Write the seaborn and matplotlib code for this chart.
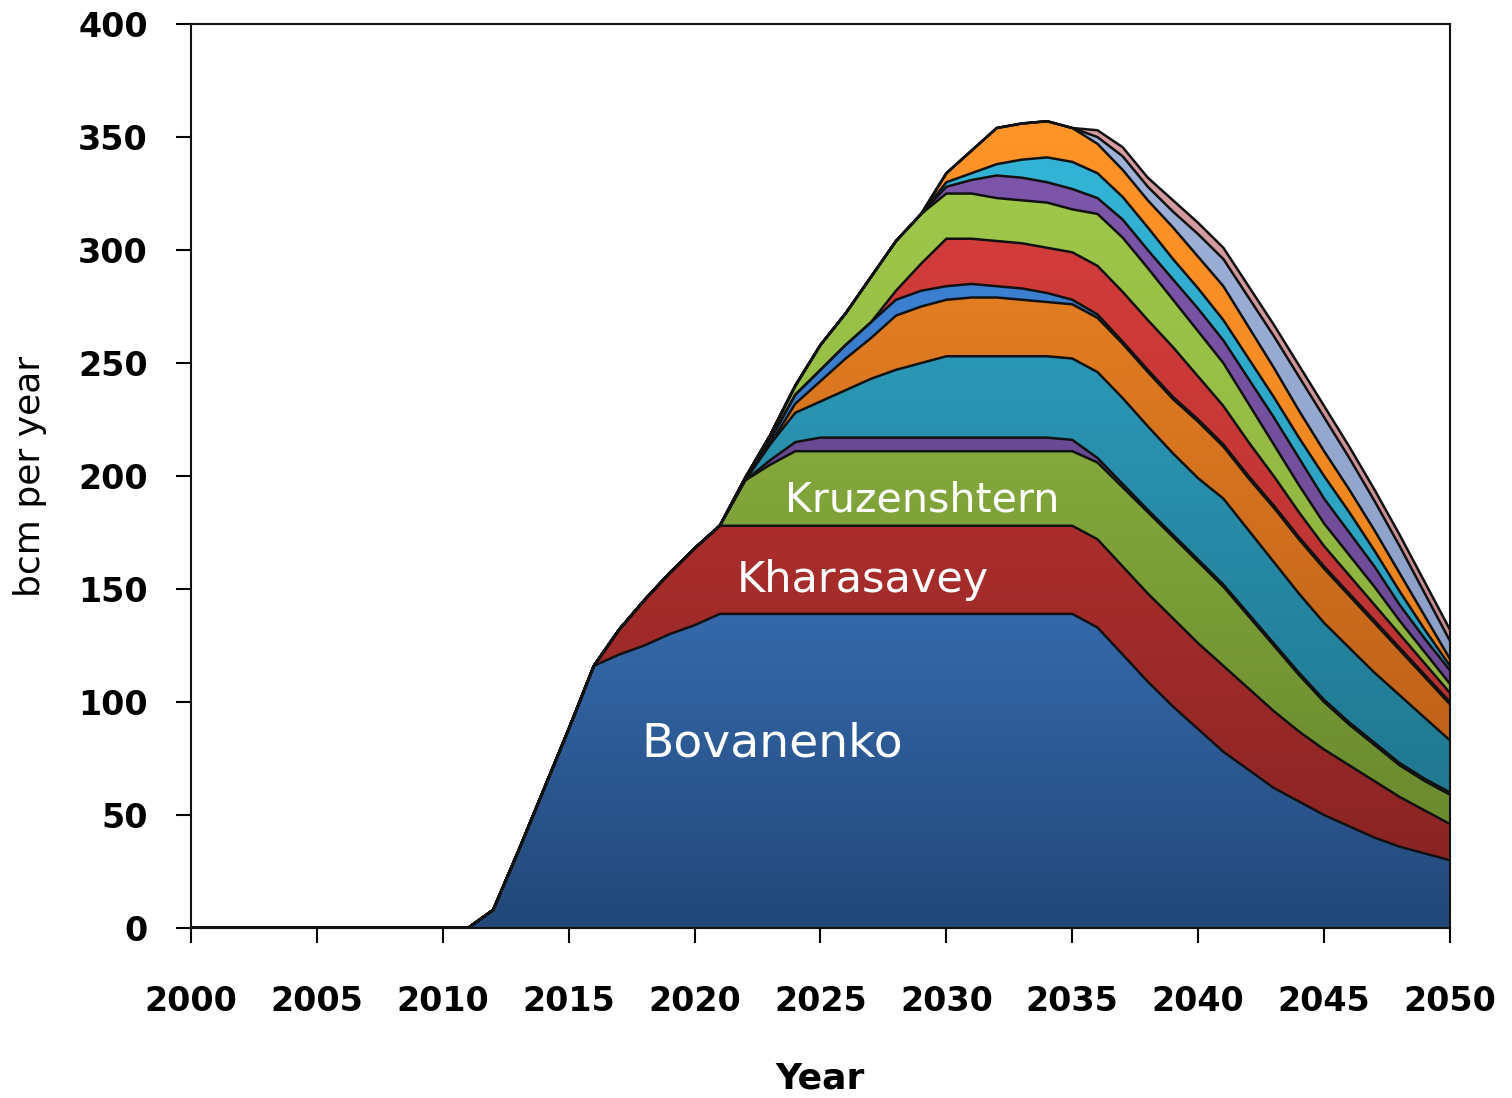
import numpy as np
import pandas as pd
import matplotlib
matplotlib.use("Agg")
import matplotlib.pyplot as plt
import seaborn as sns
from matplotlib.colors import LinearSegmentedColormap

sns.set_style("ticks")
plt.rcParams['font.family'] = ['DejaVu Sans']
plt.rcParams['text.color'] = 'black'
plt.rcParams['axes.labelcolor'] = 'black'
plt.rcParams['xtick.color'] = 'black'
plt.rcParams['ytick.color'] = 'black'

# --- data: yearly production per field, bcm per year (stacked bottom -> top) ---
years = list(range(2000, 2051))
z = [0] * 11  # 2000-2010, nothing produced yet

bovanenko = z + [0, 8, 34, 61, 88, 116, 121, 125, 130, 134, 139,
                 139, 139, 139, 139, 139, 139, 139, 139, 139, 139, 139, 139, 139, 139,
                 133, 121, 109, 98, 88, 78, 70, 62, 56, 50, 45, 40, 36, 33, 30]
kharasavey = z + [0, 0, 0, 0, 0, 0, 11, 20, 27, 34, 39,
                  39, 39, 39, 39, 39, 39, 39, 39, 39, 39, 39, 39, 39, 39,
                  39, 39, 39, 39, 38, 38, 36, 34, 31, 29, 27, 25, 22, 19, 16]
kruzenshtern = z + [0, 0, 0, 0, 0, 0, 0, 0, 0, 0, 0,
                    20, 27, 33, 33, 33, 33, 33, 33, 33, 33, 33, 33, 33, 33,
                    34, 35, 36, 36, 36, 35, 32, 29, 25, 21, 18, 16, 14, 13, 13]
field_4 = z + [0, 0, 0, 0, 0, 0, 0, 0, 0, 0, 0,
               0, 2, 4, 6, 6, 6, 6, 6, 6, 6, 6, 6, 6, 5,
               2, 1.5, 1, 1, 1, 1, 1, 1, 1, 1, 1, 1, 1, 1, 1]
field_5 = z + [0, 0, 0, 0, 0, 0, 0, 0, 0, 0, 0,
               0, 7, 13, 16, 21, 26, 30, 33, 36, 36, 36, 36, 36, 36,
               38, 38, 37, 36, 36, 38, 37, 36, 35, 34, 33, 31, 30, 27, 23]
field_6 = z + [0, 0, 0, 0, 0, 0, 0, 0, 0, 0, 0,
               0, 0, 4, 9, 14, 18, 24, 25, 25, 26, 26, 25, 24, 24,
               24, 24, 24, 24, 25, 23, 23, 24, 24, 24, 23, 22, 20, 18, 16]
field_7 = z + [0, 0, 0, 0, 0, 0, 0, 0, 0, 0, 0,
               0, 2, 4, 5, 6, 7, 7, 7, 6, 6, 5, 5, 4, 2,
               1.5, 1, 1, 1, 1, 1, 1, 1, 1, 1, 1, 1, 1, 1, 1]
field_8 = z + [0, 0, 0, 0, 0, 0, 0, 0, 0, 0, 0,
               0, 0, 0, 0, 0, 0, 4, 12, 21, 20, 20, 20, 20, 21,
               21.5, 22, 22, 22, 19, 17, 15, 13, 11, 9, 8, 7, 6, 5, 4]
field_9 = z + [0, 0, 0, 0, 0, 0, 0, 0, 0, 0, 0,
               1, 2, 4, 11, 14, 20, 22, 22, 20, 20, 19, 19, 20, 19,
               23, 24, 23, 21, 20, 19, 17, 14, 12, 10, 9, 8, 6, 5, 4]
field_10 = z + [0, 0, 0, 0, 0, 0, 0, 0, 0, 0, 0,
                0, 0, 0, 0, 0, 0, 0, 0, 3, 6, 10, 10, 9, 9,
                7, 8, 8, 9, 10, 10, 11, 12, 12, 11, 10, 9, 7, 6, 6]
field_11 = z + [0, 0, 0, 0, 0, 0, 0, 0, 0, 0, 0,
                0, 0, 0, 0, 0, 0, 0, 0, 2, 3, 5, 8, 11, 12,
                11, 10, 10, 9, 9, 9, 9, 9, 9, 10, 9, 7, 6, 4, 2]
field_12 = z + [0, 0, 0, 0, 0, 0, 0, 0, 0, 0, 0,
                0, 0, 0, 0, 0, 0, 0, 0, 4, 10, 16, 16, 16, 15,
                13, 12, 12, 14, 14, 15, 14, 13, 12, 11, 10, 9, 8, 6, 3]
field_13 = z + [0, 0, 0, 0, 0, 0, 0, 0, 0, 0, 0,
                0, 0, 0, 0, 0, 0, 0, 0, 0, 0, 0, 0, 0, 0,
                3, 6, 6, 7, 10, 12, 13, 14, 15, 15, 14, 13, 12, 10, 8]
field_14 = z + [0, 0, 0, 0, 0, 0, 0, 0, 0, 0, 0,
                0, 0, 0, 0, 0, 0, 0, 0, 0, 0, 0, 0, 0, 0,
                3, 4, 4, 5, 5, 5, 5, 5, 5, 5, 5, 5, 5, 5, 5]

fields = [bovanenko, kharasavey, kruzenshtern, field_4, field_5, field_6, field_7,
          field_8, field_9, field_10, field_11, field_12, field_13, field_14]
names = ['Bovanenko', 'Kharasavey', 'Kruzenshtern', 'Field 4', 'Field 5', 'Field 6',
         'Field 7', 'Field 8', 'Field 9', 'Field 10', 'Field 11', 'Field 12',
         'Field 13', 'Field 14']

# top / bottom colour of each field's gradient
light = ['#3569ab', '#ab2e2d', '#84a83c', '#6a4a95', '#2b97b6', '#e27d22', '#3c80d2',
         '#d23c3a', '#9fc74a', '#7d56aa', '#33b4d6', '#ff9428', '#9fb2da', '#d79ea3']
dark = ['#224778', '#8a2424', '#6a8a2e', '#58407e', '#217891', '#c0621a', '#3470b8',
        '#b83232', '#8bb03f', '#6c4a95', '#2c9dbb', '#e8821f', '#8c9fc6', '#c48c91']

tops = np.cumsum(np.array(fields, dtype=float), axis=0)
bottoms = np.vstack([np.zeros(len(years)), tops[:-1]])

# --- plot ---
fig = plt.figure(figsize=(15.12, 10.98), dpi=100)
ax = fig.add_axes([0.1263, 0.1548, 0.8327, 0.8233])

grad = np.linspace(0, 1, 256).reshape(-1, 1)
for i in range(len(fields)):
    coll = ax.fill_between(years, bottoms[i], tops[i], facecolor=light[i],
                           edgecolor='none', zorder=1)
    on = np.array(fields[i]) > 0
    lo, hi = bottoms[i][on].min(), tops[i][on].max()
    cmap = LinearSegmentedColormap.from_list('g%d' % i, [dark[i], light[i]])
    im = ax.imshow(grad, cmap=cmap, origin='lower', aspect='auto',
                   extent=[2000, 2050, lo, hi], zorder=1.5, interpolation='bilinear')
    im.set_clip_path(coll.get_paths()[0], transform=ax.transData)

# black outlines of every layer
lines = pd.DataFrame({'year': np.tile(years, len(fields)),
                      'top': tops.ravel(),
                      'field': np.repeat(names, len(years))})
sns.lineplot(data=lines, x='year', y='top', hue='field', hue_order=names,
             palette=['#111111'] * len(names), legend=False, linewidth=1.8,
             estimator=None, sort=False, ax=ax, zorder=3)

ax.text(2017.9, 75.8, 'Bovanenko', color='white', fontsize=34, ha='left', va='baseline', zorder=4)
ax.text(2021.67, 148.8, 'Kharasavey', color='white', fontsize=31, ha='left', va='baseline', zorder=4)
ax.text(2023.59, 184.2, 'Kruzenshtern', color='white', fontsize=29.6, ha='left', va='baseline', zorder=4)

ax.set_xlim(2000, 2050)
ax.set_ylim(0, 400)
ax.set_xticks(range(2000, 2051, 5))
ax.set_yticks(range(0, 401, 50))
ax.tick_params(direction='out', length=11, width=1.5, color='black', labelsize=24,
               labelcolor='black')
ax.tick_params(axis='y', pad=20)
ax.tick_params(axis='x', pad=30)
for lab in ax.get_xticklabels() + ax.get_yticklabels():
    lab.set_fontweight('bold')
for sp in ax.spines.values():
    sp.set_linewidth(1.5)
    sp.set_color('#111111')

ax.set_xlabel('Year', fontsize=26, fontweight='bold', color='black')
ax.set_ylabel('bcm per year', fontsize=26, color='black')
ax.xaxis.set_label_coords(0.5, -0.148)
ax.yaxis.set_label_coords(-0.114, 0.5)

fig.savefig('out.png', dpi=100)
